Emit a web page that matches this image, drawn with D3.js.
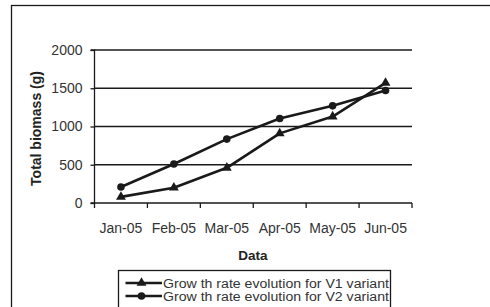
<!DOCTYPE html>
<html><head><meta charset="utf-8">
<script src="https://cdn.jsdelivr.net/npm/d3@7"></script>
<style>body{margin:0;background:#fff}svg{display:block}text{font-family:"Liberation Sans",Arial,sans-serif}</style>
</head><body>
<script>
const categories = ["Jan-05","Feb-05","Mar-05","Apr-05","May-05","Jun-05"];
const v1 = [80, 200, 460, 910, 1130, 1570];
const v2 = [210, 510, 835, 1105, 1270, 1470];
const yTicks = [0, 500, 1000, 1500, 2000];
const seriesNames = ["Grow th rate evolution for V1 variant", "Grow th rate evolution for V2 variant"];

const W = 490, H = 307;
const svg = d3.select("body").append("svg").attr("width", W).attr("height", H);
const ink = "#1a1a1a";

// outer chart border
svg.append("rect").attr("x", 11.5).attr("y", 5.5).attr("width", 600).attr("height", 400)
  .attr("fill", "none").attr("stroke", ink).attr("stroke-width", 1.3);

const x0 = 94.5, x1 = 412, yTop = 50, yBot = 203;
const x = d3.scaleBand().domain(categories).range([x0, x1]).padding(0);
const y = d3.scaleLinear().domain([0, 2000]).range([yBot, yTop]);

// gridlines
svg.append("g").selectAll("line").data(yTicks.filter(d => d > 0)).join("line")
  .attr("x1", x0).attr("x2", x1).attr("y1", d => y(d)).attr("y2", d => y(d))
  .attr("stroke", ink).attr("stroke-width", 1.3);

// y axis
const yAxis = svg.append("g").attr("transform", `translate(${x0},0)`)
  .call(d3.axisLeft(y).tickValues(yTicks).tickSize(4).tickPadding(8).tickFormat(d3.format("d")));
yAxis.select(".domain").attr("stroke", ink).attr("stroke-width", 1.3).attr("d", `M-4,${yTop}H0V${yBot}H-4`);
yAxis.selectAll(".tick line").attr("stroke", ink).attr("stroke-width", 1.3);
yAxis.selectAll(".tick text").attr("font-size", 14).attr("fill", "#333").attr("font-family", "Liberation Sans, Arial, sans-serif");

// x axis
const xAxis = svg.append("g").attr("transform", `translate(0,${yBot})`)
  .call(d3.axisBottom(x).tickSize(0).tickPadding(20));
xAxis.select(".domain").attr("stroke", ink).attr("stroke-width", 1.3).attr("d", `M${x0},0H${x1}`);
xAxis.selectAll(".tick text").attr("font-size", 14).attr("fill", "#333").attr("font-family", "Liberation Sans, Arial, sans-serif");
// category boundary tick marks
svg.append("g").selectAll("line").data(categories.concat(["end"])).join("line")
  .attr("x1", (d, i) => x0 + i * x.step()).attr("x2", (d, i) => x0 + i * x.step())
  .attr("y1", yBot).attr("y2", yBot + 5).attr("stroke", ink).attr("stroke-width", 1.3);

// axis titles
svg.append("text").attr("transform", `translate(41,128.5) rotate(-90)`).attr("text-anchor", "middle")
  .attr("font-size", 14).attr("font-weight", "bold").attr("fill", "#222").text("Total biomass (g)");
svg.append("text").attr("x", 253).attr("y", 260).attr("text-anchor", "middle")
  .attr("font-size", 13.5).attr("font-weight", "bold").attr("fill", "#222").text("Data");

const cx = d => x(d) + x.bandwidth() / 2;
const line = d3.line().x(d => cx(d[0])).y(d => y(d[1]));
const tri = d3.symbol().type(d3.symbolTriangle).size(42);

function drawSeries(vals, kind) {
  const pts = categories.map((c, i) => [c, vals[i]]);
  svg.append("path").datum(pts).attr("d", line).attr("fill", "none")
    .attr("stroke", ink).attr("stroke-width", 2.6).attr("stroke-linejoin", "round");
  const g = svg.append("g");
  if (kind === "tri") {
    g.selectAll("path").data(pts).join("path").attr("d", tri())
      .attr("transform", d => `translate(${cx(d[0])},${y(d[1])})`).attr("fill", ink);
  } else {
    g.selectAll("circle").data(pts).join("circle")
      .attr("cx", d => cx(d[0])).attr("cy", d => y(d[1])).attr("r", 3.8).attr("fill", ink);
  }
}
drawSeries(v1, "tri");
drawSeries(v2, "circ");

// legend
svg.append("rect").attr("x", 118.5).attr("y", 270.5).attr("width", 272).attr("height", 60)
  .attr("fill", "none").attr("stroke", ink).attr("stroke-width", 1.3);
const leg = svg.append("g");
seriesNames.forEach((name, i) => {
  const ly = 283 + i * 13;
  leg.append("line").attr("x1", 125.5).attr("x2", 162).attr("y1", ly).attr("y2", ly)
    .attr("stroke", ink).attr("stroke-width", 2.6);
  if (i === 0) leg.append("path").attr("d", tri()).attr("transform", `translate(141.5,${ly})`).attr("fill", ink);
  else leg.append("circle").attr("cx", 141.5).attr("cy", ly).attr("r", 3.8).attr("fill", ink);
  leg.append("text").attr("x", 163).attr("y", ly + 4.5).attr("font-size", 12.5).attr("fill", "#333")
    .attr("textLength", 226).attr("lengthAdjust", "spacingAndGlyphs").text(name);
});
</script>
</body></html>
